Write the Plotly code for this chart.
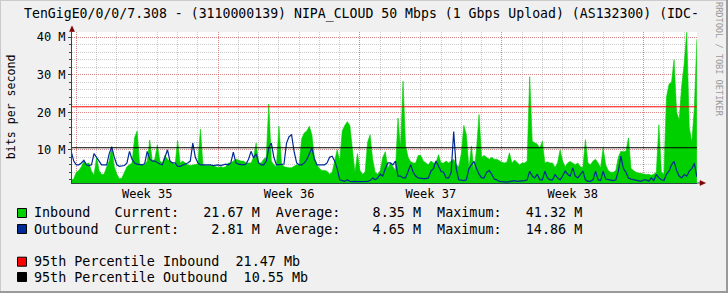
import pandas as pd
import plotly.graph_objects as go

# ---------------- data ----------------
title_text = "TenGigE0/0/0/7.308 - (3110000139) NIPA_CLOUD 50 Mbps (1 Gbps Upload) (AS132300) (IDC-"
start_time = "2023-08-27 18:00"
step = "3h"

inbound_m = [
    1.8, 2.3, 4.0, 4.5, 5.5, 7.0, 6.2, 6.5, 4.3, 3.3,
    8.0, 4.5, 3.4, 3.5, 5.5, 7.0, 10.8, 5.5, 3.5, 2.3,
    2.5, 4.0, 5.5, 6.0, 6.5, 13.2, 15.0, 6.2, 6.0, 6.0,
    7.0, 12.6, 7.0, 7.5, 11.3, 7.0, 6.5, 8.5, 7.5, 7.0,
    6.5, 6.0, 12.5, 6.5, 7.0, 6.5, 6.0, 5.8, 6.0, 6.0,
    6.2, 15.5, 6.0, 5.8, 5.8, 6.0, 5.8, 5.5, 5.3, 5.5,
    5.3, 5.5, 6.5, 6.5, 7.0, 7.5, 7.3, 7.0, 7.0, 6.5,
    6.5, 6.5, 8.0, 11.8, 6.5, 6.5, 7.5, 8.0, 22.2, 7.0,
    6.0, 5.5, 16.3, 6.5, 5.5, 5.3, 5.2, 5.2, 5.5, 6.0,
    6.0, 13.0, 14.5, 15.0, 16.3, 14.0, 8.0, 6.0, 5.0, 4.5,
    4.5, 4.3, 3.5, 4.0, 7.0, 10.0, 7.0, 15.0, 16.5, 17.5,
    16.5, 11.0, 4.0, 9.0, 4.5, 3.5, 4.0, 12.0, 14.0, 7.5,
    4.0, 3.5, 4.5, 8.0, 9.5, 5.0, 6.5, 5.5, 4.5, 18.5,
    10.5, 28.3, 11.0, 8.0, 6.8, 6.5, 6.5, 8.5, 8.5, 7.0,
    6.5, 6.0, 7.0, 6.5, 6.5, 8.7, 6.5, 6.5, 7.0, 6.5,
    7.0, 7.5, 6.0, 5.5, 9.0, 16.5, 14.0, 5.0, 11.0, 4.3,
    10.0, 19.4, 8.0, 8.5, 8.0, 7.5, 8.0, 7.5, 7.5, 7.0,
    6.7, 6.5, 6.7, 9.2, 6.5, 7.3, 6.5, 6.0, 6.5, 6.5,
    7.0, 29.5, 12.3, 12.0, 11.5, 10.5, 12.3, 6.5, 6.8, 6.5,
    6.5, 5.3, 6.5, 10.0, 7.0, 5.5, 6.5, 6.9, 6.5, 6.0,
    6.5, 5.5, 5.3, 12.7, 6.5, 6.0, 7.0, 7.5, 6.5, 5.2,
    10.5, 6.0, 4.5, 4.0, 4.0, 4.5, 8.0, 9.6, 9.5, 9.6,
    13.2, 5.0, 4.5, 4.0, 3.8, 3.6, 3.6, 3.4, 3.5, 3.2,
    3.5, 4.0, 16.7, 4.0, 3.5, 24.0, 27.5, 28.0, 34.0, 20.0,
    18.0, 27.0, 33.0, 41.32, 16.0, 12.0, 21.0, 39.5,
]

outbound_m = [
    9.5, 7.0, 6.0, 6.0, 6.5, 7.2, 6.0, 5.8, 6.0, 9.0,
    8.0, 7.0, 6.0, 6.0, 6.0, 9.0, 10.8, 8.0, 6.0, 5.6,
    5.6, 5.8, 6.5, 9.6, 7.5, 6.5, 6.2, 6.0, 6.0, 6.3,
    9.6, 7.5, 7.0, 7.0, 6.5, 6.2, 6.0, 8.0, 10.0, 7.0,
    6.5, 6.5, 5.6, 5.6, 6.0, 6.2, 6.5, 7.0, 11.8, 8.0,
    6.5, 6.0, 6.0, 6.0, 6.2, 6.0, 5.8, 6.0, 6.0, 5.8,
    6.0, 6.2, 6.0, 6.5, 9.4, 6.5, 6.2, 6.0, 6.0, 6.2,
    7.5, 9.6, 7.8, 8.9, 6.5, 6.0, 6.0, 7.0, 10.5, 11.8,
    8.0, 6.0, 6.0, 6.0, 6.2, 11.8, 13.5, 14.0, 9.5, 6.5,
    6.0, 6.0, 6.5, 7.4, 9.0, 10.5, 7.5, 6.0, 6.0, 6.0,
    6.0, 6.5, 8.0, 8.3, 7.0, 5.0, 2.0, 1.8, 1.6, 2.0,
    1.6, 1.5, 1.6, 1.5, 1.5, 1.6, 1.5, 1.6, 1.8, 2.5,
    2.0, 2.5, 3.5, 3.0, 5.0, 6.5, 6.5, 6.0, 7.0, 3.0,
    3.0, 2.5, 2.5, 4.5, 6.0, 4.0, 3.0, 2.5, 2.3, 2.3,
    2.3, 2.5, 4.3, 5.0, 7.0, 5.5, 4.3, 4.0, 2.5, 2.5,
    4.0, 14.86, 5.0, 2.0, 1.8, 1.8, 2.0, 5.0, 6.0, 6.9,
    5.0, 3.5, 2.5, 2.5, 4.0, 4.5, 3.5, 2.2, 2.0, 1.6,
    1.5, 1.4, 1.4, 1.5, 1.6, 1.8, 1.6, 1.6, 1.8, 1.8,
    2.0, 4.3, 3.0, 2.5, 3.5, 2.0, 2.0, 4.3, 2.5, 2.0,
    2.0, 3.4, 2.5, 2.0, 3.0, 4.3, 3.5, 3.0, 5.2, 3.0,
    2.5, 3.5, 4.3, 2.0, 1.6, 1.6, 2.0, 4.3, 2.0, 1.8,
    4.3, 2.2, 2.0, 1.8, 1.8, 2.0, 4.3, 8.3, 5.0, 4.0,
    2.5, 2.2, 2.0, 1.8, 1.6, 1.6, 2.0, 2.0, 1.6, 2.5,
    1.8, 3.4, 2.5, 2.0, 1.8, 3.5, 4.3, 6.0, 6.9, 4.5,
    3.0, 2.5, 3.4, 3.0, 4.3, 5.0, 6.4, 2.81,
]

week_starts = ["2023-08-28", "2023-09-04", "2023-09-11", "2023-09-18", "2023-09-25"]
week_mids = ["2023-08-31 12:00", "2023-09-07 12:00", "2023-09-14 12:00", "2023-09-21 12:00"]
week_labels = ["Week 35", "Week 36", "Week 37", "Week 38"]
x_start = "2023-08-27 18:55"
x_end = "2023-09-27 15:10"

y_tickvals = [10, 20, 30, 40]
y_ticktext = ["10 M", "20 M", "30 M", "40 M"]
y_range = [1.15, 41.41]

p95_in = 21.47
p95_out = 10.55

legend_lines = [
    "Inbound   Current:   21.67 M  Average:    8.35 M  Maximum:   41.32 M",
    "Outbound  Current:    2.81 M  Average:    4.65 M  Maximum:   14.86 M",
    "95th Percentile Inbound  21.47 Mb",
    "95th Percentile Outbound  10.55 Mb",
]

# ---------------- styles ----------------
IN_C = "#00CF00"
OUT_C = "#002A97"
P95_IN_C = "#FF0000"
P95_OUT_C = "#000000"
legend_colors = [IN_C, OUT_C, P95_IN_C, P95_OUT_C]
legend_rows_y = [213, 229, 261.7, 277]
BACK = "#F0F0F0"
AXIS_C = "#2C4D43"
ARROW_C = "#7F0000"
GRID_C = "rgba(143,143,143,0.45)"
MGRID_C = "rgba(222,80,80,0.55)"
MONO = "DejaVu Sans Mono"
W, H = 728, 293
L, R, T, B = 72, 697, 32, 183


def px(x):
    return (x - L) / (R - L)


def py(y):
    return (B - y) / (B - T)


times = pd.date_range(start_time, periods=len(inbound_m), freq=step)

fig = go.Figure()
fig.add_trace(go.Scatter(x=times, y=inbound_m, mode="lines",
                         line=dict(color=IN_C, width=0.6), fill="tozeroy",
                         fillcolor=IN_C, showlegend=False, hoverinfo="skip"))
fig.add_trace(go.Scatter(x=times, y=outbound_m, mode="lines",
                         line=dict(color=OUT_C, width=1.2), showlegend=False))
fig.add_trace(go.Scatter(x=[x_start, x_end], y=[p95_in, p95_in], mode="lines",
                         xaxis="x2", line=dict(color=P95_IN_C, width=1), showlegend=False))
fig.add_trace(go.Scatter(x=[x_start, x_end], y=[p95_out, p95_out], mode="lines",
                         xaxis="x2", line=dict(color=P95_OUT_C, width=1), showlegend=False))

dot = "1px,1px"
fig.update_layout(
    width=W, height=H,
    margin=dict(l=L, r=W - R, t=T, b=H - B, pad=0),
    paper_bgcolor=BACK, plot_bgcolor="#FFFFFF",
    font=dict(family=MONO, color="#000000"),
    showlegend=False,
    xaxis=dict(
        type="date", range=[x_start, x_end], tickmode="array",
        tickvals=week_mids, ticktext=week_labels, showgrid=False, ticks="",
        tickfont=dict(family=MONO, size=12), showline=True, linecolor=AXIS_C,
        linewidth=1, zeroline=False, fixedrange=True,
        minor=dict(dtick=86400000, tick0="2023-08-28", showgrid=True,
                   gridcolor=GRID_C, griddash=dot, gridwidth=1, ticks=""),
    ),
    xaxis2=dict(
        type="date", range=[x_start, x_end], overlaying="x", anchor="y",
        tickmode="array", tickvals=week_starts, showticklabels=False,
        showgrid=True, gridcolor=MGRID_C, griddash=dot, gridwidth=1,
        ticks="", showline=False, zeroline=False, fixedrange=True,
    ),
    yaxis=dict(
        range=y_range, tickmode="array", tickvals=y_tickvals, ticktext=y_ticktext,
        showgrid=True, gridcolor=MGRID_C, griddash=dot, gridwidth=1,
        ticks="outside", ticklen=3, tickcolor=AXIS_C,
        tickfont=dict(family=MONO, size=12), showline=True, linecolor=AXIS_C,
        linewidth=1, zeroline=False, fixedrange=True,
        minor=dict(dtick=2, tick0=0, showgrid=True, gridcolor=GRID_C,
                   griddash=dot, gridwidth=1, ticks="outside", ticklen=2,
                   tickcolor=AXIS_C),
    ),
)

shapes = []
# axis extensions and arrows
shapes.append(dict(type="line", xref="paper", yref="paper", x0=px(72), x1=px(72),
                   y0=py(32), y1=py(29), line=dict(color=AXIS_C, width=1)))
shapes.append(dict(type="path", xref="paper", yref="paper",
                   path=f"M {px(69.5)} {py(31.5)} L {px(74.5)} {py(31.5)} L {px(72)} {py(26)} Z",
                   fillcolor=ARROW_C, line=dict(color=ARROW_C, width=0.5)))
shapes.append(dict(type="line", xref="paper", yref="paper", x0=px(697), x1=px(700),
                   y0=py(183), y1=py(183), line=dict(color=AXIS_C, width=1)))
shapes.append(dict(type="path", xref="paper", yref="paper",
                   path=f"M {px(700)} {py(180.5)} L {px(700)} {py(185.5)} L {px(705.5)} {py(183)} Z",
                   fillcolor=ARROW_C, line=dict(color=ARROW_C, width=0.5)))
# frame shading
shapes.append(dict(type="rect", xref="paper", yref="paper", x0=px(0), x1=px(W),
                   y0=py(0), y1=py(1), fillcolor="#CBCBCB", line=dict(width=0)))
shapes.append(dict(type="rect", xref="paper", yref="paper", x0=px(0), x1=px(1),
                   y0=py(0), y1=py(H), fillcolor="#CBCBCB", line=dict(width=0)))
shapes.append(dict(type="rect", xref="paper", yref="paper", x0=px(0), x1=px(W),
                   y0=py(H - 2), y1=py(H), fillcolor="#999999", line=dict(width=0)))
shapes.append(dict(type="rect", xref="paper", yref="paper", x0=px(W - 2), x1=px(W),
                   y0=py(0), y1=py(H), fillcolor="#999999", line=dict(width=0)))
# legend swatches
for c, yc in zip(legend_colors, legend_rows_y):
    shapes.append(dict(type="rect", xref="paper", yref="paper",
                       x0=px(17.5), x1=px(26.5), y0=py(yc + 4.5), y1=py(yc - 4.5),
                       fillcolor=c, line=dict(color="#000000", width=1)))

annotations = []
nb = lambda s: s.replace(" ", "\u00a0")
annotations.append(dict(xref="paper", yref="paper", x=px(23.5), y=py(14),
                        xanchor="left", yanchor="middle", text=nb(title_text),
                        showarrow=False, borderpad=0, borderwidth=0,
                        font=dict(family=MONO, size=13.2, color="#000000")))
annotations.append(dict(xref="paper", yref="paper", x=px(10.7), y=py(106.5),
                        xanchor="center", yanchor="middle", text=nb("bits per second"),
                        textangle=-90, showarrow=False, borderpad=0, borderwidth=0,
                        font=dict(family=MONO, size=11.6, color="#000000")))
annotations.append(dict(xref="paper", yref="paper", x=px(719), y=py(60),
                        xanchor="center", yanchor="middle",
                        text=nb("RRDTOOL / TOBI OETIKER"), textangle=90,
                        showarrow=False, borderpad=0, borderwidth=0,
                        font=dict(family=MONO, size=8.6, color="#9A9A9A")))
for line_text, yc in zip(legend_lines, legend_rows_y):
    annotations.append(dict(xref="paper", yref="paper", x=px(33.5), y=py(yc),
                            xanchor="left", yanchor="middle", text=nb(line_text),
                            showarrow=False, borderpad=0, borderwidth=0,
                            font=dict(family=MONO, size=13.4, color="#000000")))

fig.update_layout(shapes=shapes, annotations=annotations)
fig.write_html("out.html")
